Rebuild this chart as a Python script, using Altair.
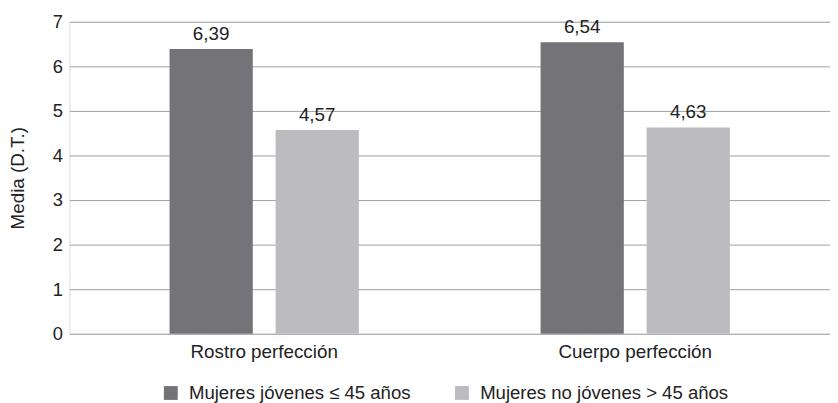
import altair as alt
import pandas as pd

categories = ["Rostro perfección", "Cuerpo perfección"]
groups = ["Mujeres jóvenes ≤ 45 años", "Mujeres no jóvenes > 45 años"]
young = [6.39, 6.54]
older = [4.57, 4.63]
colors = ["#747478", "#bcbcc0"]

rows = []
for i, c in enumerate(categories):
    for g, vals in zip(groups, [young, older]):
        v = vals[i]
        rows.append({"cat": c, "grp": g, "val": v, "lab": f"{v:.2f}".replace(".", ",")})
df = pd.DataFrame(rows)

FONT = "Liberation Sans"
TXT = "#222222"
FS = 19

x = alt.X("cat:N", sort=categories, title=None,
          scale=alt.Scale(paddingInner=0, paddingOuter=0.025),
          axis=alt.Axis(labelAngle=0, domain=False, ticks=False, tickSize=0,
                        labelPadding=9, labelFontSize=FS, labelColor=TXT, labelFont=FONT))
xo = alt.XOffset("grp:N", sort=groups,
                 scale=alt.Scale(paddingInner=0.215, paddingOuter=0.857))
y = alt.Y("val:Q", title="Media (D.T.)",
          scale=alt.Scale(domain=[0, 7], nice=False),
          axis=alt.Axis(values=[0, 1, 2, 3, 4, 5, 6, 7], grid=True, gridColor="#a0a0a0",
                        gridWidth=1, domain=False, ticks=False, tickSize=0,
                        labelPadding=7, labelFontSize=FS - 0.5, labelColor=TXT, labelFont=FONT,
                        titleFontSize=FS, titleFontWeight="normal", titleColor=TXT,
                        titleFont=FONT, titlePadding=25))

bars = alt.Chart(df).mark_bar().encode(
    x=x, xOffset=xo, y=y,
    color=alt.Color("grp:N", sort=groups, title=None,
                    scale=alt.Scale(domain=groups, range=colors),
                    legend=alt.Legend(orient="none", direction="horizontal",
                                      legendX=93, legendY=365,
                                      symbolType="square", symbolSize=196,
                                      symbolStrokeWidth=0, symbolOpacity=1,
                                      labelFontSize=18.75, labelColor=TXT, labelFont=FONT,
                                      labelOffset=9, columnPadding=42, labelLimit=0,
                                      padding=0)),
)

labels = alt.Chart(df).mark_text(baseline="bottom", dy=-5, fontSize=FS,
                                 font=FONT, color=TXT).encode(
    x=x, xOffset=xo, y=y, text="lab:N"
)

chart = (bars + labels).properties(
    width=768, height=315,
    autosize=alt.AutoSizeParams(type="none"),
    padding={"left": 62, "top": 12, "right": 0, "bottom": 68},
).configure_view(stroke=None).configure(background="white")

chart.save("out.html", embed_options={"renderer": "svg", "actions": False})
